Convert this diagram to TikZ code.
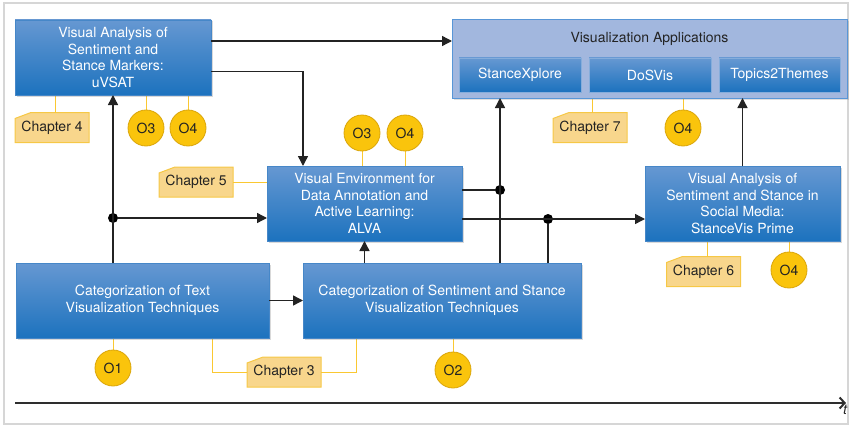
\documentclass[tikz,border=0pt]{standalone}
\usepackage{fontspec}
\setmainfont{TeX Gyre Heros}
\usetikzlibrary{arrows.meta,shadows,backgrounds}
\definecolor{boxtop}{RGB}{102,152,210}
\definecolor{boxbot}{RGB}{28,114,190}
\definecolor{boxedge}{RGB}{70,135,200}
\definecolor{appfill}{RGB}{162,183,222}
\definecolor{appedge}{RGB}{88,150,215}
\definecolor{gold}{RGB}{250,196,12}
\definecolor{golddark}{RGB}{218,165,10}
\definecolor{tagfill}{RGB}{248,214,140}
\definecolor{tagedge}{RGB}{246,200,70}
\definecolor{yline}{RGB}{250,200,50}
\definecolor{ink}{RGB}{35,35,35}
\definecolor{frame}{RGB}{214,214,214}
\begin{document}
\begin{tikzpicture}[x=1pt,y=-1pt,font=\fontsize{14}{16.5}\selectfont,
  box/.style={draw=boxedge,line width=0.6pt,top color=boxtop,bottom color=boxbot,
    text=white,align=center,inner sep=2pt,outer sep=0pt,
    drop shadow={shadow xshift=1.5pt,shadow yshift=-1.5pt,opacity=0.3}},
  appbox/.style={draw=appedge,line width=1pt,fill=appfill,outer sep=0pt,
    drop shadow={shadow xshift=1.5pt,shadow yshift=-1.5pt,opacity=0.25}},
  subbox/.style={draw=boxtop!80!white,line width=0.8pt,top color=boxtop,bottom color=boxbot,
    text=white,inner sep=0pt,outer sep=0pt,minimum width=122pt,minimum height=34pt},
  tagbox/.style={minimum width=74pt,minimum height=30pt,inner sep=0pt,outer sep=0pt,text=ink},
  tagshape/.style={draw=tagedge,line width=1pt,fill=tagfill},
  obj/.style={circle,minimum size=36pt,inner sep=0pt,outer sep=0pt,fill=gold,draw=golddark,
    line width=0.8pt,text=ink},
  yl/.style={draw=yline,line width=1pt},
  arr/.style={draw=ink,line width=1.4pt,-{Triangle[length=10pt,width=10pt]}},
  ln/.style={draw=ink,line width=1.4pt},
  dot/.style={circle,fill=black,minimum size=10pt,inner sep=0pt}]
\useasboundingbox (0,0) rectangle (851,428);

% main boxes
\node[box,minimum width=196pt,minimum height=75pt] (uvsat) at (113,57.5)
  {Visual Analysis of\\Sentiment and\\Stance Markers:\\uVSAT};
\node[appbox,minimum width=395pt,minimum height=78pt] (vapp) at (649.5,59) {};
\node[text=ink] (vtitle) at (649.5,39) {Visualization Applications};
\node[subbox] (stx) at (520,75) {StanceXplore};
\node[subbox] (dos) at (650,75) {DoSVis};
\node[subbox,minimum width=121pt] (t2t) at (779.5,75) {Topics2Themes};
\node[box,minimum width=195pt,minimum height=75pt] (alva) at (364.5,203.5)
  {Visual Environment for\\Data Annotation and\\Active Learning:\\ALVA};
\node[box,minimum width=195pt,minimum height=75pt] (svp) at (742.5,203.5)
  {Visual Analysis of\\Sentiment and Stance in\\Social Media:\\StanceVis Prime};
\node[box,minimum width=253pt,minimum height=75pt] (cattext) at (142.5,300.5)
  {Categorization of Text\\Visualization Techniques};
\node[box,minimum width=278pt,minimum height=75pt] (catsent) at (442,300.5)
  {Categorization of Sentiment and Stance\\Visualization Techniques};

% chapter tags
\node[tagbox] (ch4) at (52,127.5) {Chapter 4};
\node[tagbox] (ch7) at (590,127.5) {Chapter 7};
\node[tagbox] (ch5) at (196,182) {Chapter 5};
\node[tagbox] (ch6) at (703.5,271.5) {Chapter 6};
\node[tagbox] (ch3) at (284,372) {Chapter 3};

% objectives
\node[obj] (o3a) at (146,128) {O3};
\node[obj] (o4a) at (188,128) {O4};
\node[obj] (o3b) at (362,133) {O3};
\node[obj] (o4b) at (405,133) {O4};
\node[obj] (o4c) at (683,128) {O4};
\node[obj] (o4d) at (789,270) {O4};
\node[obj] (o1) at (113,368) {O1};
\node[obj] (o2) at (453,370) {O2};

% junctions
\node[dot] (j1) at (113,218) {};
\node[dot] (j2) at (500,190) {};
\node[dot] (j3) at (548,219) {};

% timeline
\coordinate (t0) at (15,403);
\coordinate (t1) at (846,403);
\draw[draw=ink!95,line width=2pt,-{Straight Barb[length=5pt,width=11pt,line width=2pt]}] (t0) -- (t1);
\node[anchor=west,inner sep=0pt,text=ink] (tl) at (843,410) {\textit{t}};

\begin{scope}[on background layer]
  \draw[draw=frame,line width=2pt] (4,3) rectangle (848,424);
  \foreach \t in {ch3,ch4,ch5,ch6,ch7}{
    \draw[tagshape] (\t.south west) -- (\t.south east) -- (\t.north east)
      -- ([xshift=16pt]\t.north west) -- ([yshift=-6pt]\t.north west) -- cycle;
  }
  % yellow connectors
  \draw[yl] ([xshift=3pt]ch4.north) -- ([xshift=3pt]ch4.north |- uvsat.south);
  \draw[yl] (o3a.north) -- (o3a.north |- uvsat.south);
  \draw[yl] (o4a.north) -- (o4a.north |- uvsat.south);
  \draw[yl] ([xshift=2pt]ch7.north) -- ([xshift=2pt]ch7.north |- vapp.south);
  \draw[yl] (o4c.north) -- (o4c.north |- vapp.south);
  \draw[yl] (o3b.south) -- (o3b.south |- alva.north);
  \draw[yl] (o4b.south) -- (o4b.south |- alva.north);
  \draw[yl] (ch5.east) -- (ch5.east -| alva.west);
  \draw[yl] ([xshift=3.5pt]ch6.north) -- ([xshift=3.5pt]ch6.north |- svp.south);
  \draw[yl] (o4d.north) -- (o4d.north |- svp.south);
  \draw[yl] (o1.north) -- (o1.north |- cattext.south);
  \draw[yl] (o2.north) -- (o2.north |- catsent.south);
  \draw[yl] ([xshift=69.5pt]cattext.south) |- (ch3.west);
  \draw[yl] ([xshift=-86pt]catsent.south) |- (ch3.east);
\end{scope}

% black connectors
\draw[arr] ([yshift=16.5pt]uvsat.east) -- ([yshift=16.5pt]uvsat.east -| vapp.west);
\draw[arr] ([yshift=-14pt]uvsat.east) -| ([xshift=-61.5pt]alva.north);
\draw[arr] (cattext.north -| j1) -- (j1 |- uvsat.south);
\draw[arr] (j1) -- (j1 -| alva.west);
\draw[arr] (cattext.east) -- (catsent.west);
\draw[arr] (catsent.north -| alva.south) -- (alva.south);
\draw[ln] (alva.east |- j2) -- (j2);
\draw[arr] (catsent.north -| j2) -- (j2 |- vapp.south);
\draw[arr] (alva.east |- j3) -- (j3 -| svp.west);
\draw[ln] (catsent.north -| j3) -- (j3);
\draw[arr] (svp.north) -- (svp.north |- vapp.south);
\end{tikzpicture}
\end{document}
